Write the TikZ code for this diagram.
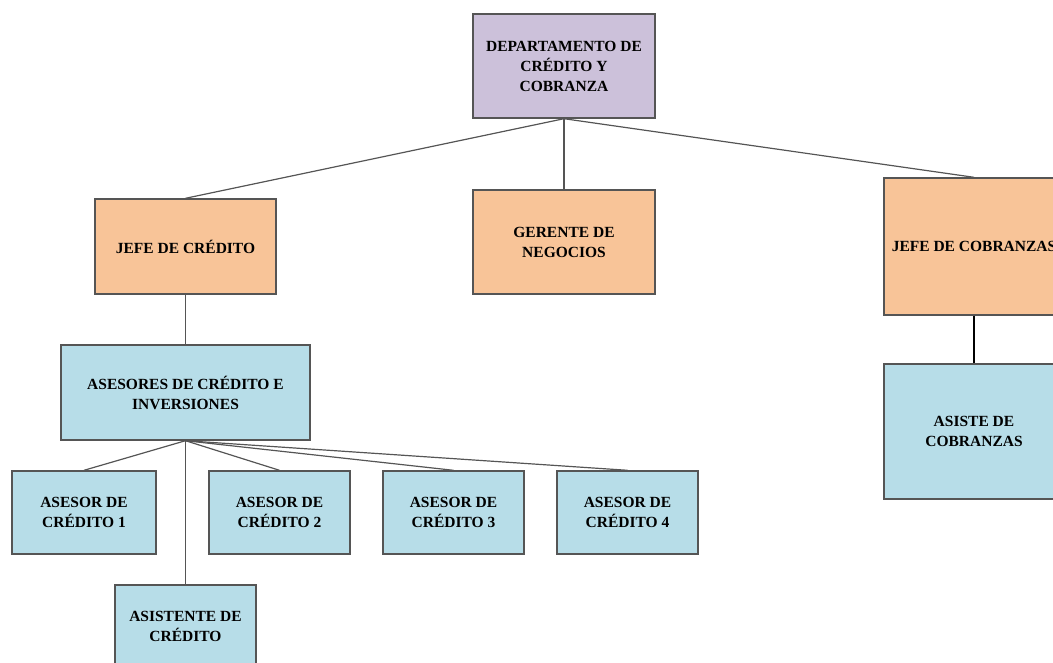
\documentclass[tikz,border=0pt]{standalone}
\usepackage{fontspec}
\setmainfont{Liberation Serif}
\definecolor{boxlila}{RGB}{204,193,218}
\definecolor{boxnaranja}{RGB}{248,196,152}
\definecolor{boxceleste}{RGB}{183,221,232}
\definecolor{borde}{RGB}{85,85,85}
\tikzset{
  cargo/.style={draw=borde, line width=1.4pt, align=center, inner sep=2pt,
    font=\fontsize{15.5}{20}\selectfont\bfseries},
  enlace/.style={draw=borde, line width=1.2pt}
}
\begin{document}
\begin{tikzpicture}[x=1pt, y=-1pt]
            \useasboundingbox (0,0) rectangle (1053,663);
            \clip (0,0) rectangle (1053,663);
            % nivel 1
            \node [cargo, fill=boxlila, minimum width=182, minimum height=104] (Depto) at (564,66) {DEPARTAMENTO DE\\CRÉDITO Y\\COBRANZA};
            % nivel 2
            \node [cargo, fill=boxnaranja, minimum width=181, minimum height=95] (JefeCredito) at (185.5,246.5) {JEFE DE CRÉDITO};
            \node [cargo, fill=boxnaranja, minimum width=182, minimum height=104] (Gerente) at (564,242) {GERENTE DE\\NEGOCIOS};
            \node [cargo, fill=boxnaranja, minimum width=180, minimum height=137] (JefeCobranzas) at (974,246.5) {JEFE DE COBRANZAS};
            % nivel 3
            \node [cargo, fill=boxceleste, minimum width=249, minimum height=95] (Asesores) at (185.5,392.5) {ASESORES DE CRÉDITO E\\INVERSIONES};
            \node [cargo, fill=boxceleste, minimum width=180, minimum height=135] (AsisteCob) at (974,431.5) {ASISTE DE\\COBRANZAS};
            % nivel 4
            \node [cargo, fill=boxceleste, minimum width=144, minimum height=83] (Asesor1) at (84,512.5) {ASESOR DE\\CRÉDITO 1};
            \node [cargo, fill=boxceleste, minimum width=141, minimum height=83] (Asesor2) at (279.5,512.5) {ASESOR DE\\CRÉDITO 2};
            \node [cargo, fill=boxceleste, minimum width=141, minimum height=83] (Asesor3) at (453.5,512.5) {ASESOR DE\\CRÉDITO 3};
            \node [cargo, fill=boxceleste, minimum width=141, minimum height=83] (Asesor4) at (627.5,512.5) {ASESOR DE\\CRÉDITO 4};
            \node [cargo, fill=boxceleste, minimum width=141, minimum height=83] (Asistente) at (185.5,626.5) {ASISTENTE DE\\CRÉDITO};
            \path[enlace] (Depto.south) -- (JefeCredito.north);
            \path[enlace] (Depto.south) -- (Gerente.north);
            \path[enlace] (Depto.south) -- (JefeCobranzas.north);
            \path[enlace] (JefeCredito.south) -- (Asesores.north);
            \path[draw=black, line width=2pt] (JefeCobranzas.south) -- (AsisteCob.north);
            \path[enlace] (Asesores.south) -- (Asesor1.north);
            \path[enlace] (Asesores.south) -- (Asesor2.north);
            \path[enlace] (Asesores.south) -- (Asesor3.north);
            \path[enlace] (Asesores.south) -- (Asesor4.north);
            \path[enlace] (Asesores.south) -- (Asistente.north);
        \end{tikzpicture}
\end{document}
